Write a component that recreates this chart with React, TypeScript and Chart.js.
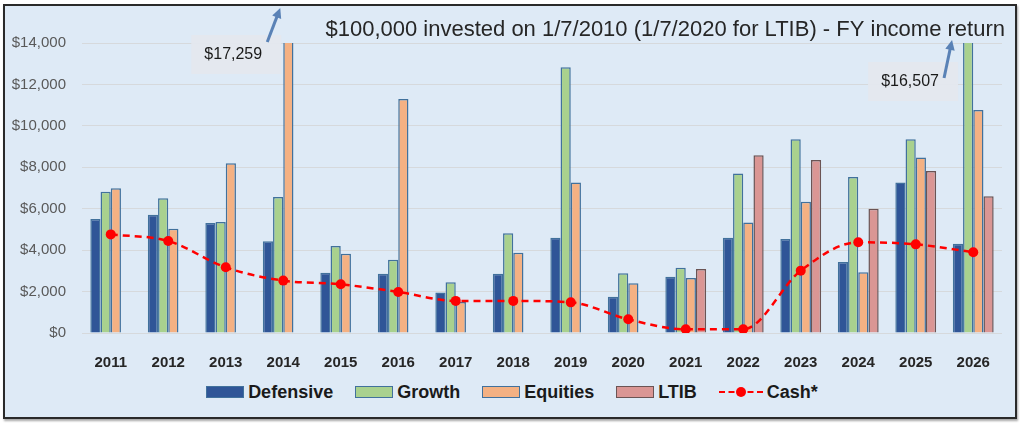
import { useEffect, useRef } from 'react';
import { Chart, registerables } from 'chart.js';

Chart.register(...registerables);

const years = ['2011', '2012', '2013', '2014', '2015', '2016', '2017', '2018', '2019', '2020', '2021', '2022', '2023', '2024', '2025', '2026'];
const defensive = [5500, 5710, 5310, 4430, 2910, 2860, 1960, 2860, 4600, 1750, 2720, 4600, 4540, 3430, 7270, 4310];
const growth = [6820, 6500, 5360, 6570, 4200, 3540, 2450, 4810, 12830, 2880, 3150, 7700, 9350, 7530, 9350, 16507];
const equities = [6990, 5030, 8190, 17259, 3830, 11300, 1500, 3880, 7270, 2400, 2650, 5330, 6340, 2930, 8470, 10770];
const ltib = [null, null, null, null, null, null, null, null, null, null, 3090, 8580, 8350, 6000, 7820, 6600];
const cash = [4760, 4440, 3170, 2530, 2350, 1980, 1550, 1550, 1480, 660, 180, 180, 3010, 4380, 4280, 3900];

const yTicks = [0, 2000, 4000, 6000, 8000, 10000, 12000, 14000];

const titleText = '$100,000 invested on 1/7/2010 (1/7/2020 for LTIB) - FY income return';
const offScaleNotes = [
  { dataset: 2, index: 3, label: '$17,259' },
  { dataset: 1, index: 15, label: '$16,507' },
];

const FONT = '"Liberation Sans", Arial, sans-serif';

const colors = {
  defensive: '#2F5597',
  growth: '#A9D18E',
  equities: '#F4B183',
  ltib: '#DA9694',
  barBorder: '#41719C',
  ltibBorder: '#6B5454',
  cash: '#FF0000',
};

function drawArrow(ctx: CanvasRenderingContext2D, x1: number, y1: number, x2: number, y2: number) {
  const ang = Math.atan2(y2 - y1, x2 - x1);
  ctx.save();
  ctx.strokeStyle = '#5A82B6';
  ctx.fillStyle = '#5A82B6';
  ctx.lineWidth = 3;
  ctx.beginPath();
  ctx.moveTo(x1, y1);
  ctx.lineTo(x2 - Math.cos(ang) * 6, y2 - Math.sin(ang) * 6);
  ctx.stroke();
  ctx.beginPath();
  ctx.moveTo(x2, y2);
  ctx.lineTo(x2 - Math.cos(ang - 0.45) * 11, y2 - Math.sin(ang - 0.45) * 11);
  ctx.lineTo(x2 - Math.cos(ang + 0.45) * 11, y2 - Math.sin(ang + 0.45) * 11);
  ctx.closePath();
  ctx.fill();
  ctx.restore();
}

const notesPlugin = {
  id: 'notes',
  afterDraw(chart: Chart) {
    const ctx = chart.ctx;
    const top = chart.chartArea.top;

    // title, fitted to the width it takes in the original
    ctx.save();
    ctx.font = `20px ${FONT}`;
    const w = ctx.measureText(titleText).width;
    const size = Math.min(22, 20 * 683 / w);
    ctx.font = `${size}px ${FONT}`;
    ctx.fillStyle = '#262626';
    ctx.textAlign = 'right';
    ctx.textBaseline = 'alphabetic';
    ctx.fillText(titleText, 1005, 36);
    ctx.restore();

    offScaleNotes.forEach((n, i) => {
      const bar: any = chart.getDatasetMeta(n.dataset).data[n.index];
      if (!bar) return;
      const left = bar.x - bar.width / 2;
      const boxW = 90;
      const boxH = 39;
      const boxTop = i === 0 ? top - 8 : top + 19;
      const boxRight = i === 0 ? left - 2 : left - 5;
      ctx.save();
      ctx.fillStyle = 'rgba(228,232,238,0.95)';
      ctx.fillRect(boxRight - boxW, boxTop, boxW, boxH);
      ctx.font = `16px ${FONT}`;
      ctx.fillStyle = '#1a1a1a';
      ctx.textAlign = 'center';
      ctx.textBaseline = 'middle';
      ctx.fillText(n.label, boxRight - boxW / 2 - 3, boxTop + boxH / 2);
      ctx.restore();
      if (i === 0) drawArrow(ctx, left - 16, top - 1, left - 3, top - 35);
      else drawArrow(ctx, left - 19, top + 35, left - 11, top - 3);
    });
  },
};

function ChartCanvas() {
  const canvasRef = useRef<HTMLCanvasElement>(null);
  const chartRef = useRef<Chart | null>(null);

  useEffect(() => {
    if (!canvasRef.current) return;
    const barCommon = {
      type: 'bar' as const,
      borderWidth: 1.5,
      categoryPercentage: 0.71,
      barPercentage: 1,
      order: 1,
    };
    chartRef.current = new Chart(canvasRef.current, {
      type: 'bar',
      data: {
        labels: years,
        datasets: [
          { ...barCommon, label: 'Defensive', data: defensive, backgroundColor: colors.defensive, borderColor: colors.barBorder },
          { ...barCommon, label: 'Growth', data: growth, backgroundColor: colors.growth, borderColor: colors.barBorder },
          { ...barCommon, label: 'Equities', data: equities, backgroundColor: colors.equities, borderColor: colors.barBorder },
          { ...barCommon, label: 'LTIB', data: ltib, backgroundColor: colors.ltib, borderColor: colors.ltibBorder },
          {
            type: 'line',
            label: 'Cash*',
            data: cash,
            borderColor: colors.cash,
            backgroundColor: colors.cash,
            borderWidth: 2.5,
            borderDash: [7, 5],
            pointRadius: 5,
            pointBorderWidth: 0,
            pointBackgroundColor: colors.cash,
            cubicInterpolationMode: 'monotone',
            order: 0,
          } as any,
        ],
      },
      options: {
        responsive: true,
        maintainAspectRatio: false,
        animation: false,
        layout: { padding: { top: 43, right: 22, bottom: 0, left: 0 } },
        plugins: {
          legend: { display: false },
          title: { display: false },
          tooltip: { enabled: false },
        },
        scales: {
          x: {
            grid: { display: false },
            border: { display: false },
            ticks: {
              color: '#262626',
              padding: 13,
              font: { family: FONT, size: 15, weight: 'bold' },
            },
            afterFit(scale: any) {
              scale.height = 41;
            },
          },
          y: {
            min: 0,
            max: 14000,
            afterBuildTicks(scale: any) {
              scale.ticks = yTicks.map(v => ({ value: v }));
            },
            grid: { color: '#D6D9DC', lineWidth: 1, drawTicks: false },
            border: { display: false },
            ticks: {
              color: '#595959',
              padding: 16,
              font: { family: FONT, size: 15 },
              callback: (v: any) => '$' + Number(v).toLocaleString('en-US'),
            },
            afterFit(scale: any) {
              scale.width = 82;
            },
          },
        },
      },
      plugins: [notesPlugin],
    });
    return () => {
      chartRef.current?.destroy();
      chartRef.current = null;
    };
  }, []);

  return <canvas ref={canvasRef} />;
}

const legendItems = [
  { label: 'Defensive', fill: colors.defensive, border: colors.barBorder },
  { label: 'Growth', fill: colors.growth, border: colors.barBorder },
  { label: 'Equities', fill: colors.equities, border: colors.barBorder },
  { label: 'LTIB', fill: colors.ltib, border: colors.ltibBorder },
];

export default function App() {
  useEffect(() => {
    document.body.style.margin = '0';
  }, []);

  const textStyle: React.CSSProperties = {
    fontFamily: FONT,
    fontWeight: 'bold',
    fontSize: '18px',
    color: '#1a1a1a',
    marginLeft: '4px',
    lineHeight: '20px',
  };

  return (
    <div style={{ position: 'relative', width: '1024px', height: '427px', background: '#fff', overflow: 'hidden' }}>
      <div
        style={{
          position: 'absolute',
          left: '3px',
          top: '4px',
          width: '1014px',
          height: '415px',
          boxSizing: 'border-box',
          border: '2px solid #2a2a2a',
          background: '#DEEAF6',
          boxShadow: '1px 2px 2px rgba(0,0,0,0.35)',
        }}
      />
      <div style={{ position: 'absolute', left: 0, top: 0, width: '1024px', height: '374px' }}>
        <ChartCanvas />
      </div>
      <div
        style={{
          position: 'absolute',
          left: 0,
          top: '382px',
          width: '1024px',
          display: 'flex',
          justifyContent: 'center',
          alignItems: 'center',
          gap: '22px',
        }}
      >
        {legendItems.map(it => (
          <div key={it.label} style={{ display: 'flex', alignItems: 'center' }}>
            <span
              style={{
                display: 'inline-block',
                width: '38px',
                height: '12px',
                boxSizing: 'border-box',
                background: it.fill,
                border: `1.5px solid ${it.border}`,
              }}
            />
            <span style={textStyle}>{it.label}</span>
          </div>
        ))}
        <div style={{ display: 'flex', alignItems: 'center' }}>
          <span style={{ position: 'relative', display: 'inline-block', width: '44px', height: '12px' }}>
            <span
              style={{
                position: 'absolute',
                left: 0,
                right: 0,
                top: '5px',
                borderTop: `2.5px dashed ${colors.cash}`,
              }}
            />
            <span
              style={{
                position: 'absolute',
                left: '17px',
                top: '1px',
                width: '10px',
                height: '10px',
                borderRadius: '50%',
                background: colors.cash,
              }}
            />
          </span>
          <span style={textStyle}>Cash*</span>
        </div>
      </div>
    </div>
  );
}
